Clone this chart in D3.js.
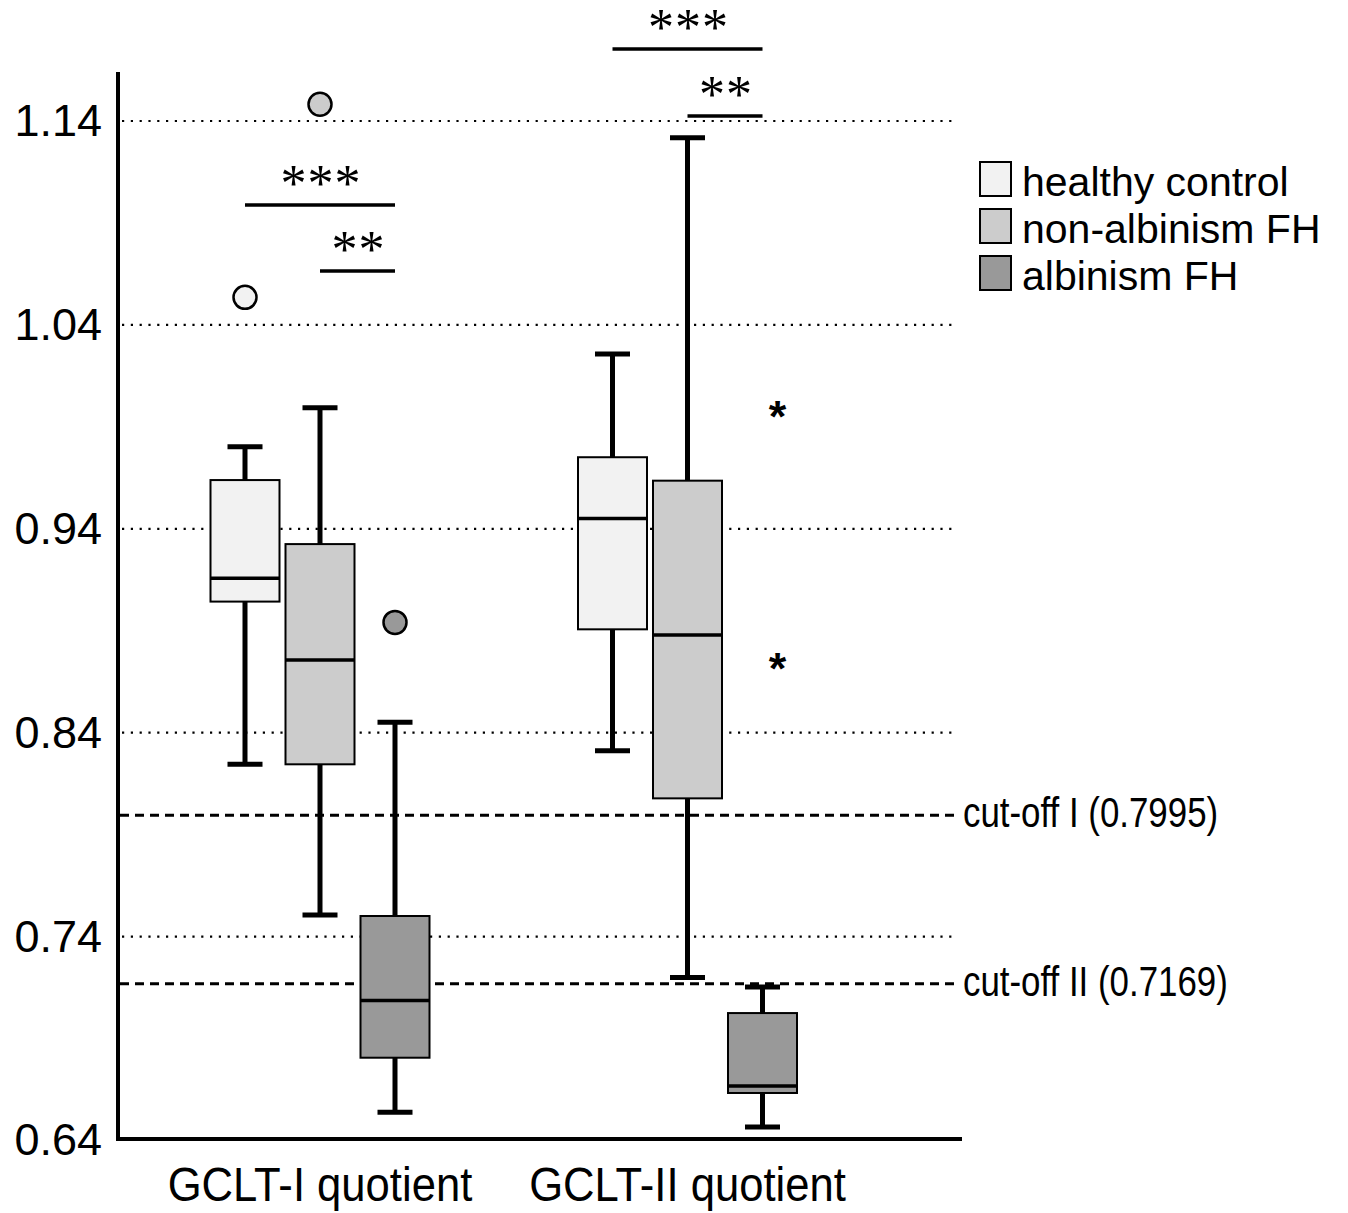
<!DOCTYPE html>
<html>
<head>
<meta charset="utf-8">
<script src="https://cdn.jsdelivr.net/npm/d3@7"></script>
<style>
  body { margin: 0; background: #fff; }
  svg { display: block; }
</style>
</head>
<body>
<div id="chart"></div>
<script>
var groups = ["GCLT-I quotient", "GCLT-II quotient"];
var series = ["healthy control", "non-albinism FH", "albinism FH"];
var tickValues = [0.64, 0.74, 0.84, 0.94, 1.04, 1.14];

// [lower whisker, q1, median, q3, upper whisker] per group, per series
var gcltI = [
    [0.8245, 0.9043, 0.9157, 0.9639, 0.9803],
    [0.7506, 0.8245, 0.8757, 0.9325, 0.9994],
    [0.6538, 0.6806, 0.7086, 0.7501, 0.8451]
];
var gcltII = [
    [0.8312, 0.8907, 0.9450, 0.9751, 1.0257],
    [0.7200, 0.8078, 0.8879, 0.9636, 1.1318],
    [0.6466, 0.6633, 0.6667, 0.7025, 0.7153]
];

// outliers (circles) and extremes (asterisks): [group, series, value]
var outliers = [[0, 0, 1.0535], [0, 1, 1.1482], [0, 2, 0.8941]];
var extremes = [[1, 2, 0.9983], [1, 2, 0.8747]];

var cutoffs = [0.7995, 0.7169];
var cutoffLabels = ["cut-off I (0.7995)", "cut-off II (0.7169)"];

// significance brackets: [group, from series, to series, level, label]
var signif = [
    [0, 0, 2, 1.0988, "***"],
    [0, 1, 2, 1.0664, "**"],
    [1, 0, 2, 1.1753, "***"],
    [1, 1, 2, 1.1425, "**"]
];

var W = 1348, H = 1213;
var svg = d3.select("#chart").append("svg")
    .attr("width", W)
    .attr("height", H);

var y = d3.scaleLinear().domain([0.64, 1.14]).range([1140.5, 121]);
var x0 = d3.scalePoint().domain(groups).range([320, 687.5]);
var x1 = d3.scalePoint().domain(series).range([-75, 75]);
var fill = d3.scaleOrdinal().domain(series).range(["#f2f2f2", "#cccccc", "#999999"]);
var boxW = 69, capW = 35;
var narrow = "'Liberation Sans', Arial, sans-serif";

function cx(g, s) {
    return x0(groups[g]) + x1(series[s]);
}

// squeeze text to look like a condensed face
function condense(sel, ratio) {
    sel.each(function () {
        var len = this.getComputedTextLength();
        d3.select(this)
            .attr("textLength", len * ratio)
            .attr("lengthAdjust", "spacingAndGlyphs");
    });
}

// dotted gridlines
svg.append("g").selectAll("line")
    .data(tickValues.filter(d => d > 0.64))
    .enter().append("line")
    .attr("x1", 122).attr("x2", 958)
    .attr("y1", d => y(d)).attr("y2", d => y(d))
    .attr("stroke", "#000")
    .attr("stroke-width", 2.2)
    .attr("stroke-dasharray", "2.2,6.6");

// cut-off lines
var cut = svg.append("g");
cut.selectAll("line")
    .data(cutoffs)
    .enter().append("line")
    .attr("x1", 120).attr("x2", 958)
    .attr("y1", d => y(d)).attr("y2", d => y(d))
    .attr("stroke", "#000")
    .attr("stroke-width", 3)
    .attr("stroke-dasharray", "9,6");
cut.selectAll("text")
    .data(cutoffs)
    .enter().append("text")
    .attr("x", 963)
    .attr("y", d => y(d) + 12)
    .attr("font-family", narrow)
    .attr("font-size", 42)
    .text((d, i) => cutoffLabels[i])
    .call(condense, 0.83);

// boxes
var boxData = [];
[gcltI, gcltII].forEach(function (grp, g) {
    grp.forEach(function (st, s) {
        boxData.push({ g: g, s: s, st: st });
    });
});

var boxes = svg.append("g").selectAll("g")
    .data(boxData)
    .enter().append("g");

boxes.append("line")
    .attr("x1", d => cx(d.g, d.s)).attr("x2", d => cx(d.g, d.s))
    .attr("y1", d => y(d.st[4])).attr("y2", d => y(d.st[0]))
    .attr("stroke", "#000").attr("stroke-width", 5);
boxes.append("line")
    .attr("x1", d => cx(d.g, d.s) - capW / 2).attr("x2", d => cx(d.g, d.s) + capW / 2)
    .attr("y1", d => y(d.st[4])).attr("y2", d => y(d.st[4]))
    .attr("stroke", "#000").attr("stroke-width", 5);
boxes.append("line")
    .attr("x1", d => cx(d.g, d.s) - capW / 2).attr("x2", d => cx(d.g, d.s) + capW / 2)
    .attr("y1", d => y(d.st[0])).attr("y2", d => y(d.st[0]))
    .attr("stroke", "#000").attr("stroke-width", 5);
boxes.append("rect")
    .attr("x", d => cx(d.g, d.s) - boxW / 2)
    .attr("width", boxW)
    .attr("y", d => y(d.st[3]))
    .attr("height", d => y(d.st[1]) - y(d.st[3]))
    .attr("fill", d => fill(series[d.s]))
    .attr("stroke", "#000").attr("stroke-width", 2);
boxes.append("line")
    .attr("x1", d => cx(d.g, d.s) - boxW / 2).attr("x2", d => cx(d.g, d.s) + boxW / 2)
    .attr("y1", d => y(d.st[2])).attr("y2", d => y(d.st[2]))
    .attr("stroke", "#000").attr("stroke-width", 3.5);

// outliers
svg.append("g").selectAll("circle")
    .data(outliers)
    .enter().append("circle")
    .attr("cx", d => cx(d[0], d[1]))
    .attr("cy", d => y(d[2]))
    .attr("r", 11.5)
    .attr("fill", d => fill(series[d[1]]))
    .attr("stroke", "#000").attr("stroke-width", 2.5);

// extremes
svg.append("g").selectAll("text")
    .data(extremes)
    .enter().append("text")
    .attr("x", d => cx(d[0], d[1]) + 15)
    .attr("y", d => y(d[2]) + 22)
    .attr("text-anchor", "middle")
    .attr("font-family", "'Liberation Sans', Arial, sans-serif")
    .attr("font-weight", "bold")
    .attr("font-size", 45)
    .text("*");

// significance brackets
var sig = svg.append("g").selectAll("g")
    .data(signif)
    .enter().append("g");
sig.append("line")
    .attr("x1", d => cx(d[0], d[1])).attr("x2", d => cx(d[0], d[2]))
    .attr("y1", d => y(d[3])).attr("y2", d => y(d[3]))
    .attr("stroke", "#000").attr("stroke-width", 3.5);
sig.append("text")
    .attr("x", d => (cx(d[0], d[1]) + cx(d[0], d[2])) / 2 + 1)
    .attr("y", d => y(d[3]) - 4)
    .attr("text-anchor", "middle")
    .attr("font-family", "'Liberation Serif', 'Times New Roman', serif")
    .attr("font-size", 52)
    .attr("letter-spacing", 1)
    .text(d => d[4]);

// y axis
var yAxis = svg.append("g")
    .attr("transform", "translate(118,0)")
    .call(d3.axisLeft(y).tickValues(tickValues).tickSize(0).tickPadding(16)
        .tickFormat(d3.format(".2f")));
yAxis.select(".domain").remove();
yAxis.selectAll("text")
    .attr("font-family", "'Liberation Sans', Arial, sans-serif")
    .attr("font-size", 45)
    .attr("fill", "#000");

svg.append("line")
    .attr("x1", 118).attr("x2", 118)
    .attr("y1", 72).attr("y2", 1141)
    .attr("stroke", "#000").attr("stroke-width", 4);
svg.append("line")
    .attr("x1", 116).attr("x2", 962)
    .attr("y1", 1139).attr("y2", 1139)
    .attr("stroke", "#000").attr("stroke-width", 4);

// x labels
svg.append("g").selectAll("text")
    .data(groups)
    .enter().append("text")
    .attr("x", d => x0(d))
    .attr("y", 1201)
    .attr("text-anchor", "middle")
    .attr("font-family", narrow)
    .attr("font-size", 49)
    .text(d => d)
    .call(condense, 0.89);

// legend
var legend = svg.append("g").selectAll("g")
    .data(series)
    .enter().append("g")
    .attr("transform", (d, i) => "translate(980," + (162 + i * 47) + ")");
legend.append("rect")
    .attr("width", 31).attr("height", 34)
    .attr("fill", d => fill(d))
    .attr("stroke", "#000").attr("stroke-width", 2);
legend.append("text")
    .attr("x", 42).attr("y", 34)
    .attr("font-family", "'Liberation Sans', Arial, sans-serif")
    .attr("font-size", 41)
    .text(d => d);
</script>
</body>
</html>
